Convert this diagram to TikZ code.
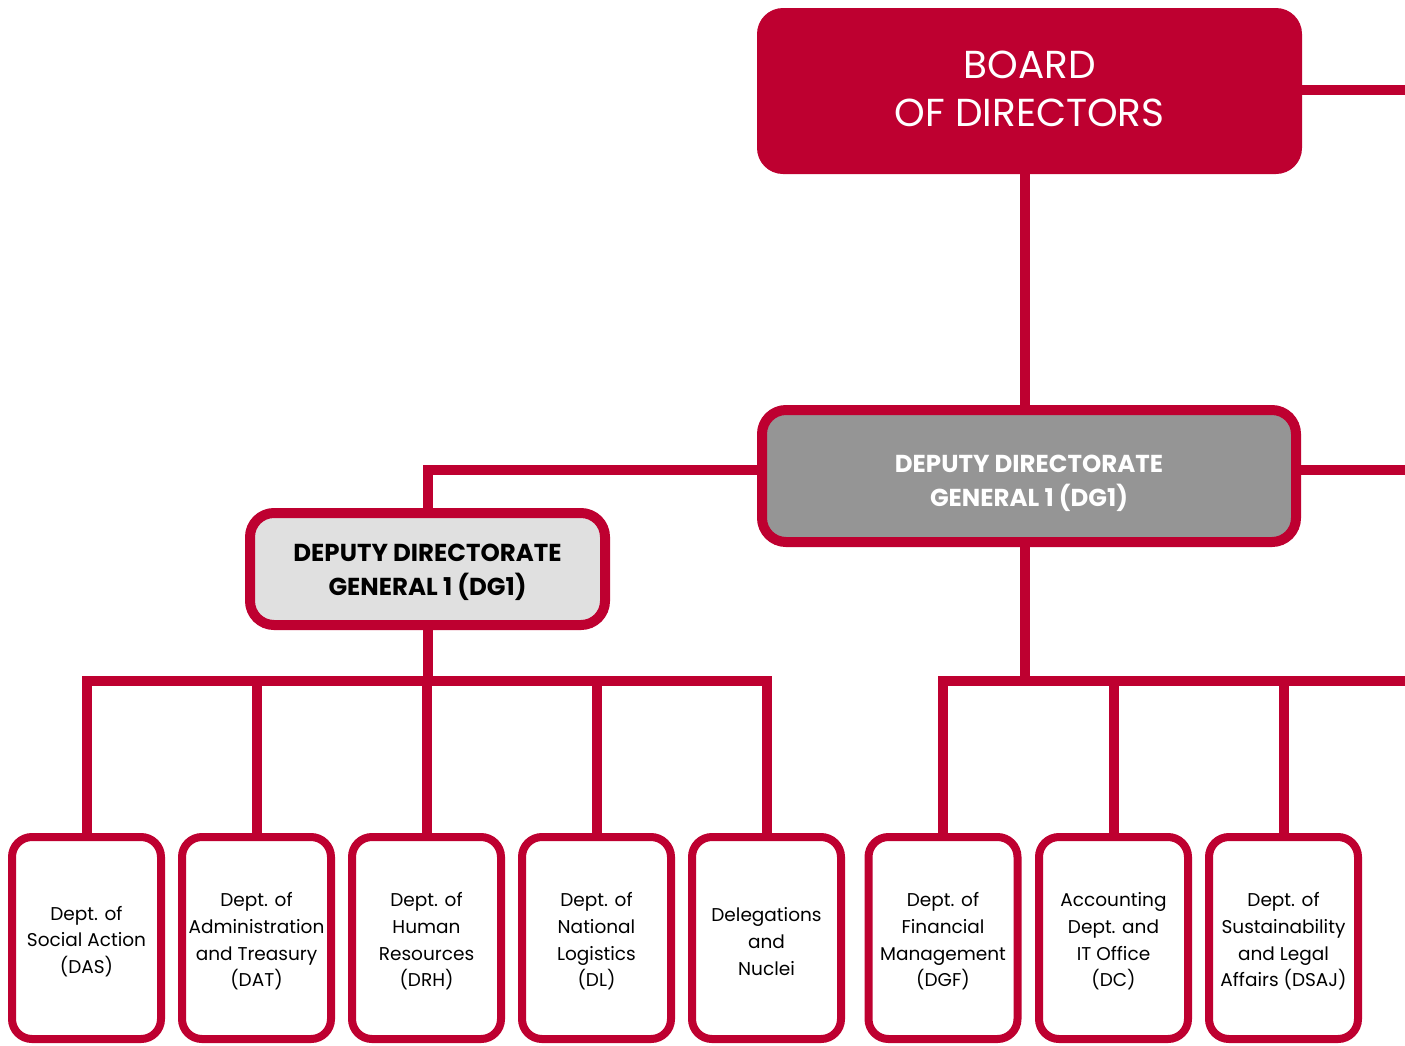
\documentclass[tikz,border=0pt]{standalone}
\usepackage{fontspec}
\setmainfont{Poppins}
\definecolor{rd}{HTML}{BE0030}
\definecolor{dgray}{HTML}{959595}
\definecolor{lgray}{HTML}{E0E0E0}
\begin{document}
\begin{tikzpicture}[x=1pt,y=-1pt,
  conn/.style={draw=rd, line width=10pt},
  dept/.style={draw=rd, fill=white, line width=8pt, rounded corners=20pt,
    minimum width=149pt, minimum height=202pt, inner sep=0pt},
  depttxt/.style={align=center, inner sep=0pt, yshift=-3.5pt,
    font=\fontsize{18.5}{26.7}\selectfont},
  dgbox/.style={draw=rd, line width=10pt, rounded corners=24pt, inner sep=0pt},
  dgtxt/.style={align=center, inner sep=0pt, font=\fontsize{24.5}{34}\selectfont\bfseries}]
\useasboundingbox (0,0) rectangle (1405,1045);
% nodes
\node[fill=rd, rounded corners=26pt, minimum width=545pt, minimum height=166pt, inner sep=0pt,
  label={[text=white, align=center, inner sep=0pt, yshift=2pt, font=\fontsize{39}{48}\selectfont]center:{BOARD\\OF DIRECTORS}}]
  (board) at (1029.5,91) {};
\node[dgbox, fill=dgray, minimum width=534pt, minimum height=132pt,
  label={[dgtxt, text=white, yshift=-7pt]center:{DEPUTY DIRECTORATE\\GENERAL 1 (DG1)}}]
  (dgA) at (1029,476) {};
\node[dgbox, fill=lgray, minimum width=355pt, minimum height=112pt,
  label={[dgtxt, text=black, yshift=-3pt]center:{DEPUTY DIRECTORATE\\GENERAL 1 (DG1)}}]
  (dgB) at (427.5,569) {};
\node[dept, label={[depttxt]center:{Dept. of\\Social Action\\(DAS)}}] (b1) at (86.5,938) {};
\node[dept, label={[depttxt]center:{Dept. of\\Administration\\and Treasury\\(DAT)}}] (b2) at (256.5,938) {};
\node[dept, label={[depttxt]center:{Dept. of\\Human\\Resources\\(DRH)}}] (b3) at (426.5,938) {};
\node[dept, label={[depttxt]center:{Dept. of\\National\\Logistics\\(DL)}}] (b4) at (596.5,938) {};
\node[dept, label={[depttxt]center:{Delegations\\and\\Nuclei}}] (b5) at (766.5,938) {};
\node[dept, label={[depttxt]center:{Dept. of\\Financial\\Management\\(DGF)}}] (b6) at (943,938) {};
\node[dept, label={[depttxt]center:{Accounting\\Dept. and\\IT Office\\(DC)}}] (b7) at (1113.5,938) {};
\node[dept, label={[depttxt]center:{Dept. of\\Sustainability\\and Legal\\Affairs (DSAJ)}}] (b8) at (1283.5,938) {};
% free ends
\coordinate (endTop) at (1405,90);
\coordinate (endMid) at (1405,470);
\coordinate (endBus) at (1405,681);
\coordinate (busL) at (427.5,681);
\coordinate (busR) at (1025,681);
% connectors
\draw[conn] (board.east |- endTop) -- (endTop);
\draw[conn] ([xshift=-5pt]board.south) -- ([xshift=-5pt]board.south |- dgA.north);
\draw[conn] (dgA.east |- endMid) -- (endMid);
\draw[conn] (dgA.west |- endMid) -| (dgB.north);
\draw[conn] (dgB.south) -- (busL);
\draw[conn] (b1.north) -- (b1.north |- busL) -- (b5.north |- busL) -- (b5.north);
\foreach \b in {b2,b3,b4} \draw[conn] (\b.north) -- (\b.north |- busL);
\draw[conn] (busR |- dgA.south) -- (busR);
\draw[conn] (b6.north) -- (b6.north |- busR) -- (endBus);
\foreach \b in {b7,b8} \draw[conn] (\b.north) -- (\b.north |- busR);
\end{tikzpicture}
\end{document}
